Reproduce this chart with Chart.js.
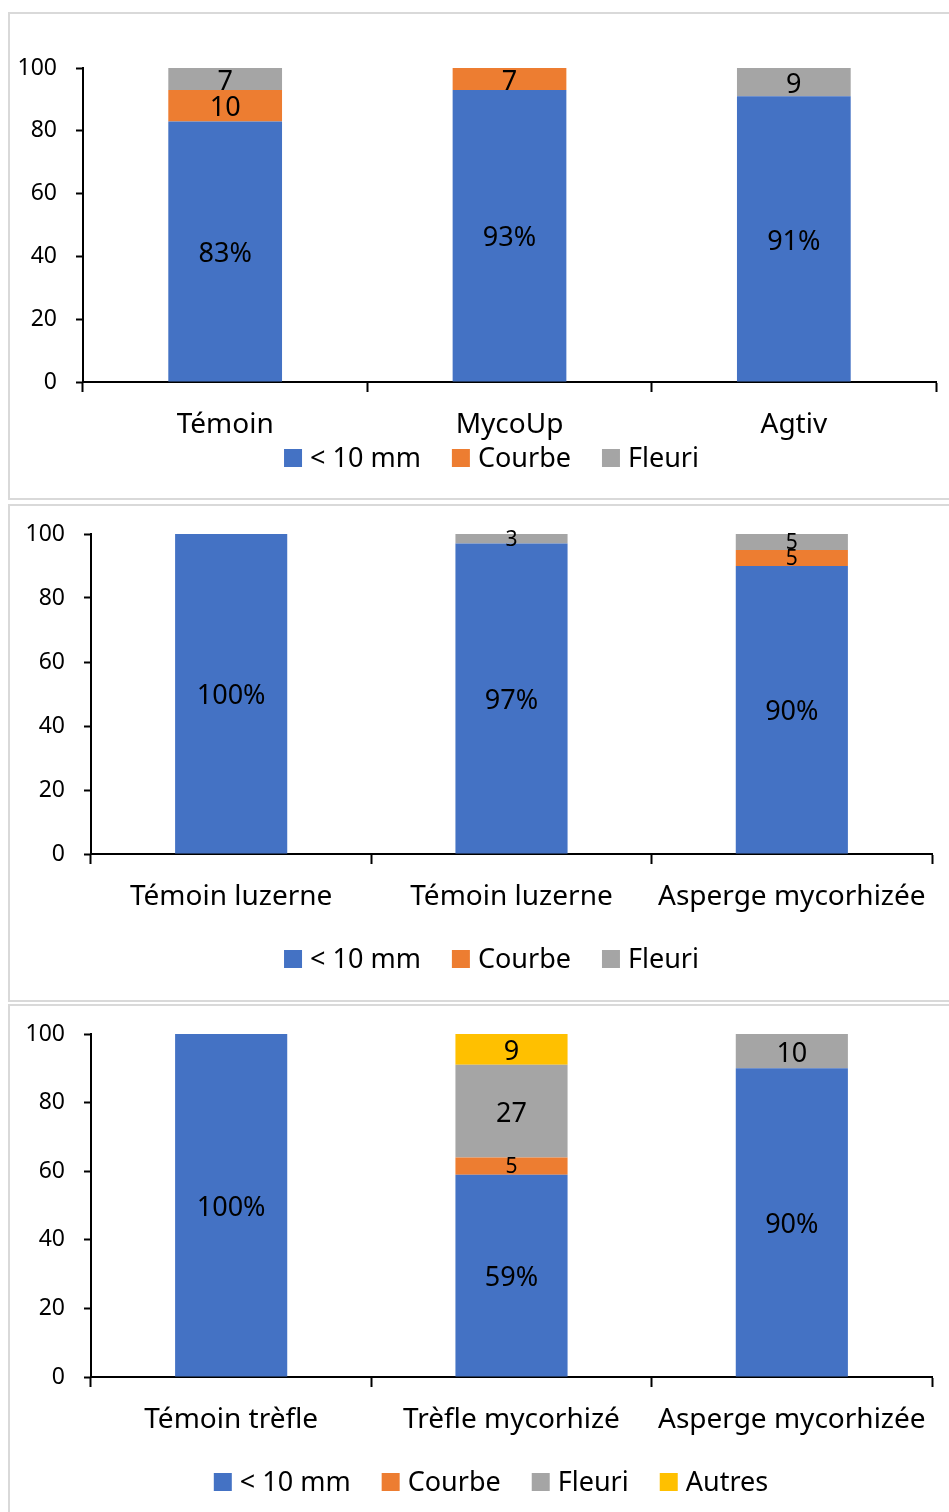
<!DOCTYPE html>
<html>
<head>
<meta charset="utf-8">
<script src="https://cdn.jsdelivr.net/npm/chart.js@4/dist/chart.umd.min.js"></script>
<style>
    body { margin: 0; width: 949px; height: 1512px; overflow: hidden; position: relative; background: #fff; }
    .panel { position: absolute; left: 8px; border: 2px solid #d9d9d9; border-right: none; }
    .panel canvas { display: block; }
</style>
</head>
<body>
<div class="panel" style="top:12px;width:960px;height:484px"><canvas id="chart1" width="939" height="484"></canvas></div>
<div class="panel" style="top:504px;width:960px;height:494px"><canvas id="chart2" width="939" height="494"></canvas></div>
<div class="panel" style="top:1004px;width:960px;height:540px"><canvas id="chart3" width="939" height="506"></canvas></div>
<script>
// Data
const cats1 = ['Témoin', 'MycoUp', 'Agtiv'];
const small1 = [83, 93, 91];
const courbe1 = [10, 7, 0];
const fleuri1 = [7, 0, 9];

const cats2 = ['Témoin luzerne', 'Témoin luzerne', 'Asperge mycorhizée'];
const small2 = [100, 97, 90];
const courbe2 = [0, 0, 5];
const fleuri2 = [0, 3, 5];

const cats3 = ['Témoin trèfle', 'Trèfle mycorhizé', 'Asperge mycorhizée'];
const small3 = [100, 59, 90];
const courbe3 = [0, 5, 0];
const fleuri3 = [0, 27, 10];
const autres3 = [0, 9, 0];

const yMin = 0;
const yMax = 100;
const yStep = 20;

const BLUE = '#4472C4';
const ORANGE = '#ED7D31';
const GRAY = '#A5A5A5';
const YELLOW = '#FFC000';
const FONT = '"Noto Sans", "Open Sans", sans-serif';

// Draws the value in the middle of each stacked segment
const barLabels = {
    id: 'barLabels',
    afterDatasetsDraw(chart) {
        const ctx = chart.ctx;
        chart.data.datasets.forEach((ds, i) => {
            const meta = chart.getDatasetMeta(i);
            meta.data.forEach((bar, j) => {
                const v = ds.data[j];
                if (!v) return;
                const h = Math.abs(bar.base - bar.y);
                const size = h < 20 ? 21 : 27;
                ctx.save();
                ctx.font = size + 'px ' + FONT;
                ctx.fillStyle = '#000';
                ctx.textAlign = 'center';
                ctx.textBaseline = 'middle';
                ctx.fillText(i === 0 ? v + '%' : String(v), bar.x, (bar.y + bar.base) / 2 + (h < 20 ? 1 : 3));
                ctx.restore();
            });
        });
    }
};

// Legend row (square + text), centred on the given point
const legendRow = {
    id: 'legendRow',
    afterDraw(chart, args, opts) {
        const ctx = chart.ctx;
        const box = 18, gap = 8, space = 31;
        ctx.save();
        ctx.font = '27px ' + FONT;
        const items = chart.data.datasets.map(ds => ({
            text: ds.label,
            color: ds.backgroundColor,
            w: ctx.measureText(ds.label).width
        }));
        const total = items.reduce((s, it) => s + box + gap + it.w, 0) + space * (items.length - 1);
        let x = opts.cx - total / 2;
        ctx.textBaseline = 'middle';
        ctx.textAlign = 'left';
        items.forEach(it => {
            ctx.fillStyle = it.color;
            ctx.fillRect(x, opts.cy - box / 2, box, box);
            ctx.fillStyle = '#000';
            ctx.fillText(it.text, x + box + gap, opts.cy + 1);
            x += box + gap + it.w + space;
        });
        ctx.restore();
    }
};

function makeChart(id, labels, datasets, lay) {
    const ctx = document.getElementById(id);
    return new Chart(ctx, {
        type: 'bar',
        data: {
            labels: labels,
            datasets: datasets.map(d => ({
                label: d.label,
                data: d.data,
                backgroundColor: d.color,
                borderWidth: 0,
                categoryPercentage: 1,
                barPercentage: 0.4
            }))
        },
        options: {
            responsive: false,
            animation: false,
            layout: {
                padding: { left: 0, right: lay.pr, top: lay.pt, bottom: lay.pb }
            },
            plugins: {
                legend: { display: false },
                tooltip: { enabled: false },
                legendRow: { cx: lay.lx, cy: lay.ly }
            },
            scales: {
                x: {
                    stacked: true,
                    afterFit: s => { s.height = 62; },
                    border: { color: '#000', width: 2 },
                    grid: {
                        offset: true,
                        drawOnChartArea: false,
                        tickLength: 10,
                        tickColor: '#000',
                        tickWidth: 2
                    },
                    ticks: {
                        color: '#000',
                        padding: 16,
                        maxRotation: 0,
                        font: { family: FONT, size: 28 }
                    }
                },
                y: {
                    stacked: true,
                    min: yMin,
                    max: yMax,
                    afterFit: s => { s.width = lay.yw; },
                    border: { color: '#000', width: 2 },
                    grid: {
                        drawOnChartArea: false,
                        tickLength: 7,
                        tickColor: '#000',
                        tickWidth: 2
                    },
                    ticks: {
                        stepSize: yStep,
                        color: '#000',
                        padding: 19,
                        font: { family: FONT, size: 23, lineHeight: 0.7 }
                    }
                }
            }
        },
        plugins: [barLabels, legendRow]
    });
}

makeChart('chart1', cats1, [
    { label: '< 10 mm', data: small1, color: BLUE },
    { label: 'Courbe', data: courbe1, color: ORANGE },
    { label: 'Fleuri', data: fleuri1, color: GRAY }
], { pr: 13, pt: 54, pb: 54, yw: 73, lx: 481.5, ly: 444 });

makeChart('chart2', cats2, [
    { label: '< 10 mm', data: small2, color: BLUE },
    { label: 'Courbe', data: courbe2, color: ORANGE },
    { label: 'Fleuri', data: fleuri2, color: GRAY }
], { pr: 17, pt: 28, pb: 84, yw: 81, lx: 481.5, ly: 453 });

makeChart('chart3', cats3, [
    { label: '< 10 mm', data: small3, color: BLUE },
    { label: 'Courbe', data: courbe3, color: ORANGE },
    { label: 'Fleuri', data: fleuri3, color: GRAY },
    { label: 'Autres', data: autres3, color: YELLOW }
], { pr: 17, pt: 28, pb: 73, yw: 81, lx: 481, ly: 476 });
</script>
</body>
</html>
